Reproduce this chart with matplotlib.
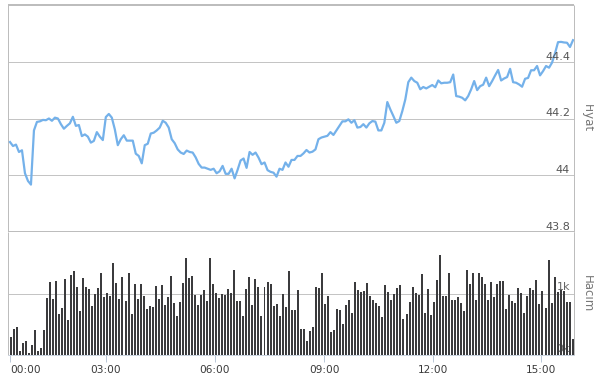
import numpy as np
import matplotlib
matplotlib.use("Agg")
import matplotlib.pyplot as plt
from matplotlib.transforms import blended_transform_factory

# ---- data ----
price_a = [44.117, 44.103, 44.108, 44.082, 44.088, 44.007, 43.98, 43.967, 44.158, 44.188,
           44.19, 44.195, 44.194, 44.2, 44.192, 44.203, 44.2, 44.18, 44.164, 44.174,
           44.183, 44.206, 44.174, 44.177, 44.138, 44.144, 44.136, 44.115, 44.121, 44.152,
           44.136, 44.124, 44.205, 44.216, 44.203, 44.162, 44.106, 44.127, 44.141, 44.122,
           44.122, 44.122, 44.076, 44.068, 44.042, 44.106, 44.111, 44.147, 44.15, 44.158,
           44.168, 44.192, 44.185, 44.168, 44.127, 44.113, 44.091, 44.08, 44.075, 44.087,
           44.082, 44.08, 44.063, 44.04, 44.027, 44.027, 44.023, 44.019, 44.023, 44.007,
           44.014, 44.033, 44.005, 44.005, 44.023, 43.989, 44.019, 44.052, 44.059, 44.026,
           44.082, 44.072, 44.08, 44.062, 44.039, 44.045, 44.018, 44.012, 44.009, 43.995,
           44.023, 44.019, 44.045, 44.03, 44.054, 44.054, 44.068]
price_b = [44.068, 44.077, 44.089, 44.08, 44.083, 44.091, 44.127, 44.133, 44.136, 44.139,
           44.152, 44.142, 44.158, 44.174, 44.19, 44.19, 44.197, 44.185, 44.194, 44.168,
           44.17, 44.18, 44.168, 44.183, 44.191, 44.189, 44.158, 44.158, 44.185, 44.258,
           44.232, 44.209, 44.185, 44.191, 44.226, 44.267, 44.328, 44.344, 44.332, 44.326,
           44.303, 44.311, 44.306, 44.312, 44.318, 44.31, 44.334, 44.324, 44.326, 44.326,
           44.328, 44.355, 44.279, 44.277, 44.273, 44.264, 44.279, 44.303, 44.332, 44.3,
           44.314, 44.319, 44.344, 44.314, 44.332, 44.352, 44.371, 44.334, 44.341, 44.346,
           44.375, 44.328, 44.326, 44.32, 44.312, 44.34, 44.343, 44.37, 44.37, 44.385,
           44.352, 44.367, 44.385, 44.379, 44.397, 44.43, 44.469, 44.47, 44.468, 44.467,
           44.452, 44.476]
price = price_a + price_b

volume_a = [0.30, 0.43, 0.46, 0.07, 0.19, 0.22, 0.04, 0.17, 0.40, 0.06,
            0.11, 0.40, 0.93, 1.19, 0.91, 1.21, 0.66, 0.77, 1.23, 0.57,
            1.30, 1.37, 1.10, 0.72, 1.25, 1.10, 1.07, 0.80, 0.99, 1.09,
            1.34, 0.95, 1.01, 0.96, 1.50, 1.17, 0.91, 1.27, 0.87, 1.34,
            0.67, 1.16, 0.91, 1.16, 0.96, 0.75, 0.79, 0.78, 1.12, 0.91,
            1.14, 0.81, 0.95, 1.29, 0.85, 0.63, 0.86, 1.17, 1.57, 1.25,
            1.28, 0.98, 0.81, 0.97, 1.05, 0.87, 1.58, 1.16, 1.01, 0.92,
            0.99, 0.97, 1.07, 1.01, 1.39, 0.87, 0.87, 0.63, 1.08, 1.27,
            0.81, 1.23, 1.11, 0.63, 1.11, 1.19, 1.16, 0.79, 0.83, 0.63,
            0.99, 0.78, 1.37, 0.73, 0.73, 1.06]
volume_b = [0.43, 0.43, 0.23, 0.39, 0.45, 1.11, 1.09, 1.34, 0.83, 0.96,
            0.38, 0.41, 0.75, 0.73, 0.50, 0.81, 0.89, 0.68, 1.19, 1.05,
            1.03, 1.04, 1.17, 0.96, 0.89, 0.84, 0.80, 0.62, 1.14, 1.03,
            0.90, 0.99, 1.09, 1.14, 0.59, 0.66, 0.86, 1.11, 1.01, 0.97,
            1.31, 0.68, 1.07, 0.65, 0.86, 1.22, 1.63, 0.96, 0.96, 1.33,
            0.90, 0.90, 0.94, 0.84, 0.72, 1.39, 1.15, 1.34, 0.89, 1.34,
            1.27, 1.15, 0.89, 1.19, 0.95, 1.16, 1.20, 1.21, 0.75, 0.98,
            0.87, 0.85, 1.09, 1.01, 0.69, 0.96, 1.09, 1.05, 1.22, 0.83,
            1.04, 0.76, 1.55, 0.85, 1.27, 1.03, 1.05, 1.04, 0.86, 0.86,
            0.26]
volume = volume_a + volume_b  # in thousands

time_labels = ["00:00", "03:00", "06:00", "09:00", "12:00", "15:00"]
time_pos = [-0.23, 31.5, 67.6, 103.7, 139.8, 175.5]   # bar-index positions
price_ticks = [43.8, 44.0, 44.2, 44.4]
price_tick_labels = ["43.8", "44", "44.2", "44.4"]
vol_ticks = [0, 1]
vol_tick_labels = ["0k", "1k"]

# ---- figure ----
W, H = 594, 378
fig = plt.figure(figsize=(W / 100, H / 100), dpi=100)
plt.rcParams['font.family'] = ['DejaVu Sans']

ax1 = fig.add_axes([8 / W, (H - 232) / H, 566 / W, 227 / H])
ax2 = fig.add_axes([8 / W, (H - 355) / H, 566 / W, 123 / H])

n = len(volume)
xlim = (-0.89, n - 1 + 0.43)
grid_c = '#c4c4c4'
px = 0.72

# price panel
xl = np.linspace(-0.23, n - 1 + 0.1, len(price))
ax1.plot(xl, price, color='#74b1ea', lw=1.6, solid_joinstyle='round', zorder=3)
ax1.set_xlim(*xlim)
ax1.set_ylim(43.8, 44.6)
ax1.set_yticks(price_ticks)
ax1.set_xticks([])
ax1.tick_params(axis='y', length=0, labelleft=False)
ax1.grid(axis='y', color=grid_c, lw=px)
for s in ['top', 'bottom']:
    ax1.spines[s].set_color('#bdbdbd')
    ax1.spines[s].set_linewidth(2 * px)
for s in ['left', 'right']:
    ax1.spines[s].set_color('#bdbdbd')
    ax1.spines[s].set_linewidth(px)
for sp in ax1.spines.values():
    sp.set_capstyle('butt')
tr1 = blended_transform_factory(ax1.transAxes, ax1.transData)
for v, lab in zip(price_ticks, price_tick_labels):
    ax1.text(0.993, v, lab, transform=tr1, ha='right', va='bottom',
             fontsize=8, color='#555555', zorder=4)

# volume panel
ax2.bar(np.arange(n), volume, width=0.66, color='#3b3b3d', zorder=3)
ax2.set_xlim(*xlim)
ax2.set_ylim(0, 2)
ax2.set_yticks([1])
ax2.tick_params(axis='y', length=0, labelleft=False)
ax2.grid(axis='y', color=grid_c, lw=px, zorder=0)
ax2.spines['top'].set_visible(False)
for s in ['left', 'right']:
    ax2.spines[s].set_color('#bdbdbd')
    ax2.spines[s].set_linewidth(px)
ax2.spines['bottom'].set_color('#c9d3df')
ax2.spines['bottom'].set_linewidth(px)
for sp in ax2.spines.values():
    sp.set_capstyle('butt')
ax2.set_xticks(time_pos)
ax2.set_xticklabels(time_labels)
ax2.tick_params(axis='x', length=5, width=px, color='#bcc9d8',
                labelsize=7.6, labelcolor='#3a3a3a', pad=2.5)
ax2.get_xticklabels()[0].set_ha('left')
tr2 = blended_transform_factory(ax2.transAxes, ax2.transData)
for v, lab in zip(vol_ticks, vol_tick_labels):
    ax2.text(0.993, v + 0.02, lab, transform=tr2, ha='right', va='bottom',
             fontsize=8, color='#666666', zorder=2)

fig.text(587 / W, 1 - 118 / H, 'Fiyat', rotation=270, ha='center', va='center',
         fontsize=8.5, color='#777777')
fig.text(587 / W, 1 - 294 / H, 'Hacim', rotation=270, ha='center', va='center',
         fontsize=8.5, color='#777777')

fig.savefig('out.png', dpi=100)
